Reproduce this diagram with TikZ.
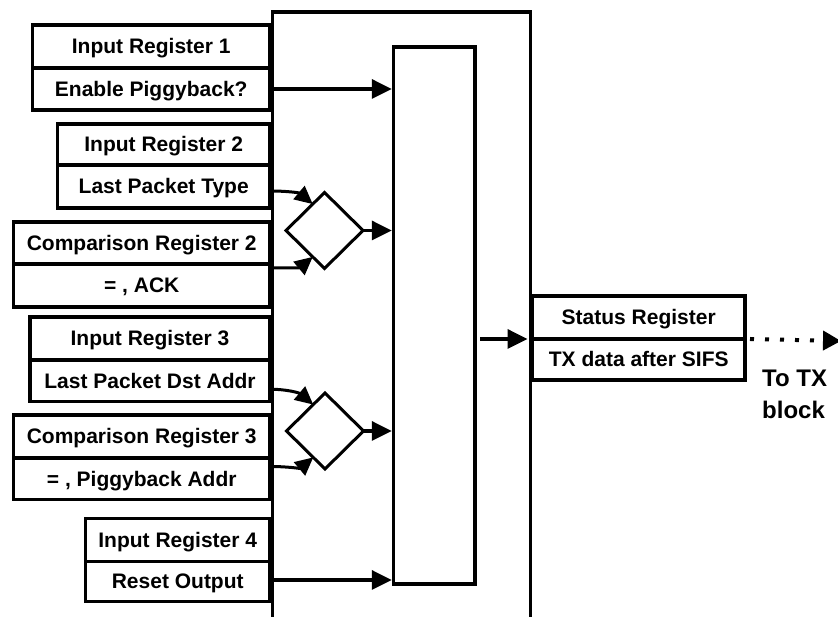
\documentclass[tikz,border=0pt]{standalone}
\usepackage{fontspec}
\setmainfont{Liberation Sans}
\usetikzlibrary{shapes.geometric, arrows.meta}

\tikzset{
  cell/.style={draw, rectangle, line width=3.5pt, inner sep=0pt, outer sep=0pt,
    font=\bfseries\fontsize{21}{25}\selectfont, text height=15pt, text depth=0pt},
  frame/.style={draw, rectangle, line width=3.5pt, inner sep=0pt, outer sep=0pt},
  cmp/.style={draw, diamond, line width=3pt, inner sep=0pt, outer sep=0pt,
    minimum width=77pt, minimum height=76pt},
  arr/.style={line width=3.5pt, -{Triangle[length=20pt,width=19pt]}, shorten >=1.75pt},
  carr/.style={line width=3pt, -{Triangle[length=18pt,width=17pt]}},
  dotarr/.style={line width=4pt, dash pattern=on 4pt off 11pt,
    -{Triangle[length=18pt,width=19pt]}}
}

\begin{document}
\begin{tikzpicture}[x=1pt, y=1pt]
  \useasboundingbox (0,0) rectangle (838,617);
  \clip (0,0) rectangle (838,617);

  % control block and its combining stage
  \node[frame, minimum width=258pt, minimum height=630pt] (ctrl) at (401.5,290) {};
  \node[frame, minimum width=81.5pt, minimum height=537pt] (inner) at (434.25,301.5) {};

  % input registers
  \node[cell, minimum width=237.5pt, minimum height=43pt] (r1a) at (151.25,570.5) {Input Register 1};
  \node[cell, minimum width=237.5pt, minimum height=42pt] (r1b) at (151.25,528) {Enable Piggyback?};

  \node[cell, minimum width=212.5pt, minimum height=41pt] (r2a) at (163.75,472.5) {Input Register 2};
  \node[cell, minimum width=212.5pt, minimum height=43pt] (r2b) at (163.75,430.5) {Last Packet Type};

  \node[cell, minimum width=256.5pt, minimum height=42pt] (c2a) at (141.75,374) {Comparison Register 2};
  \node[cell, minimum width=256.5pt, minimum height=43pt] (c2b) at (141.75,331.5) {= , ACK};

  \node[cell, minimum width=240pt, minimum height=43pt] (r3a) at (150,278.5) {Input Register 3};
  \node[cell, minimum width=240pt, minimum height=41.5pt] (r3b) at (150,236.25) {Last Packet Dst Addr};

  \node[cell, minimum width=256.5pt, minimum height=43pt] (c3a) at (141.75,180.5) {Comparison Register 3};
  \node[cell, minimum width=256.5pt, minimum height=41.5pt] (c3b) at (141.75,138.25) {= , Piggyback Addr};

  \node[cell, minimum width=184.5pt, minimum height=43pt] (r4a) at (177.75,77) {Input Register 4};
  \node[cell, minimum width=184.5pt, minimum height=40pt] (r4b) at (177.75,35.5) {Reset Output};

  % output register
  \node[cell, minimum width=212.5pt, minimum height=43pt] (sa) at (638.75,299.5) {Status Register};
  \node[cell, minimum width=212.5pt, minimum height=41pt] (sb) at (638.75,257.5) {TX data after SIFS};

  % comparators
  \node[cmp] (d2) at (324.5,386.5) {};
  \node[cmp] (d3) at (325,186) {};

  % comparator inputs
  \draw[carr] ([yshift=-4.5pt]r2b.east) to[out=0, in=140] (d2.114);
  \draw[carr] ([yshift=-4pt]c2b.north east) to[out=0, in=220] (d2.246);
  \draw[carr] ([yshift=-8.5pt]r3b.east) to[out=0, in=140] (d3.114);
  \draw[carr] ([yshift=-8.5pt]c3b.north east) to[out=0, in=220] (d3.246);

  % inputs to the combining stage
  \draw[arr] (r1b.east) -- (r1b.east -| inner.west);
  \draw[arr] (d2.east) -- (d2.east -| inner.west);
  \draw[arr] (d3.east) -- (d3.east -| inner.west);
  \draw[arr] ([yshift=1.5pt]r4b.east) -- ([yshift=1.5pt]r4b.east -| inner.west);

  % result into the status register
  \draw[arr, shorten >=5pt] ([xshift=5pt]inner.east |- sa.south) -- (sa.south west);

  % output to the transmitter
  \coordinate (txout) at (841,276);
  \draw[dotarr] ([xshift=5pt]sb.north east) -- (txout);
  \node[font=\bfseries\fontsize{24}{32}\selectfont, align=left, anchor=north west,
        inner sep=0pt] (txlabel) at (762,247) {To TX\\block};
\end{tikzpicture}
\end{document}
